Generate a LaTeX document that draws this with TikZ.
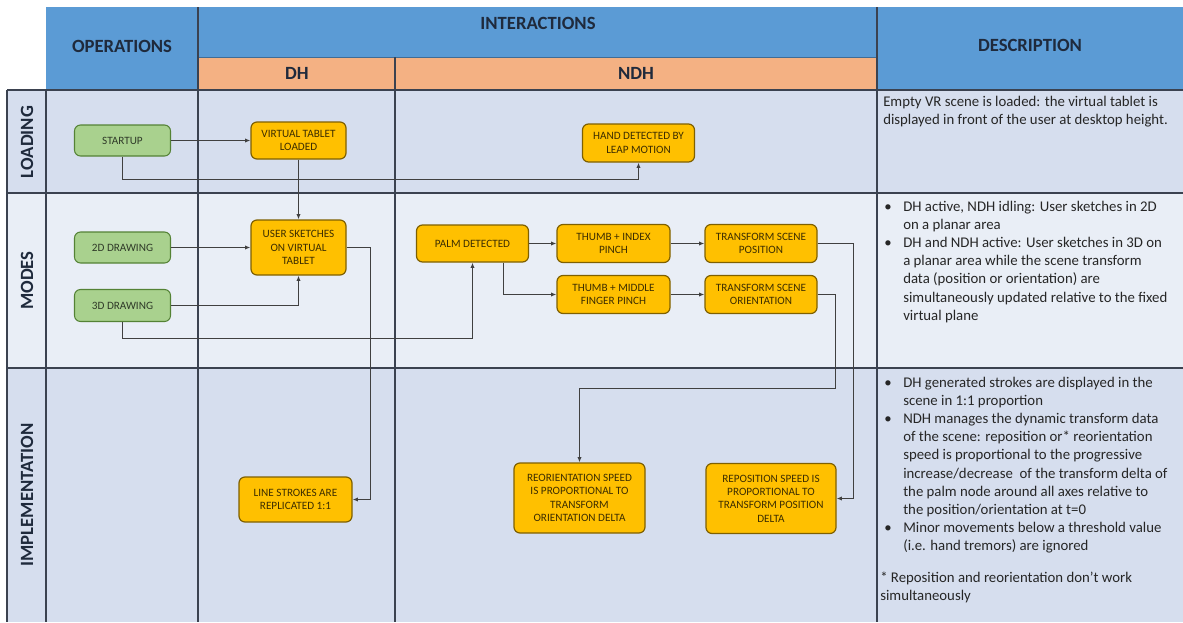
\documentclass[tikz,border=0pt]{standalone}
\usepackage{fontspec}
\setmainfont{Carlito}
\usetikzlibrary{arrows.meta,calc}
\definecolor{hblue}{HTML}{5B9BD5}
\definecolor{horange}{HTML}{F4B183}
\definecolor{rowA}{HTML}{D6DEEE}
\definecolor{rowB}{HTML}{E9EEF6}
\definecolor{nodeO}{HTML}{FFC000}
\definecolor{nodeOb}{HTML}{7F6000}
\definecolor{nodeG}{HTML}{A9D18E}
\definecolor{nodeGb}{HTML}{548235}
\definecolor{gridc}{HTML}{3B4250}
\definecolor{linec}{HTML}{404040}
\definecolor{txt}{HTML}{262626}
\definecolor{htxt}{HTML}{1F2A3C}
\definecolor{otxt}{HTML}{3D2E00}
\definecolor{gtxt}{HTML}{2F3A28}
\newcommand{\mybul}{\makebox[14.25pt][l]{•}}
\newcommand{\myind}{\makebox[14.25pt]{}}
\begin{document}
\begin{tikzpicture}[x=0.75pt,y=-0.75pt,
  sz/.style 2 args={minimum width={#1*0.75pt}, minimum height={#2*0.75pt}},
  onode/.style={draw=nodeOb, fill=nodeO, rounded corners=4.5pt, line width=0.9pt, text=otxt, align=center, inner sep=1pt, font=\fontsize{8.4}{10}\selectfont},
  gnode/.style={draw=nodeGb, fill=nodeG, rounded corners=4.5pt, line width=0.8pt, text=gtxt, align=center, inner sep=1pt, font=\fontsize{8.4}{10}\selectfont},
  conn/.style={draw=linec, line width=0.8pt, -{Latex[length=4pt,width=3.2pt]}},
  gridline/.style={draw=gridc, line width=1pt},
  hdr/.style={font=\fontsize{14}{16}\selectfont\bfseries, text=htxt, inner sep=0pt},
  rowlbl/.style={hdr, rotate=90},
  desc/.style={font=\fontsize{11.1}{13.65}\selectfont, text=txt, align=left, inner sep=0pt, anchor=north west}
]
\useasboundingbox (0,0) rectangle (1183,622);
% fills
\fill[hblue] (46,7) rectangle (198,90);
\fill[hblue] (198,7) rectangle (877,57);
\fill[horange] (198,57) rectangle (877,90);
\fill[hblue] (877,7) rectangle (1183,90);
\fill[rowA] (7,90) rectangle (1183,193);
\fill[rowB] (7,193) rectangle (1183,368);
\fill[rowA] (7,368) rectangle (1183,622);
% grid
\draw[draw=hblue!70!black, line width=0.6pt] (198,57) -- (877,57);
\draw[gridline] (198,7) -- (198,622);
\draw[gridline] (877,7) -- (877,622);
\draw[gridline] (395,57) -- (395,622);
\draw[gridline] (46,90) -- (46,622);
\draw[gridline] (7,90) -- (7,622);
\draw[gridline] (7,90) -- (1183,90);
\draw[gridline, line width=1.2pt] (7,193) -- (1183,193);
\draw[gridline, line width=1.2pt] (7,368) -- (1183,368);
% headers
\node[hdr] (hops) at (122,46) {OPERATIONS};
\node[hdr] (hint) at (538,23.5) {INTERACTIONS};
\node[hdr] (hdh) at (297,73) {DH};
\node[hdr] (hndh) at (636,73) {NDH};
\node[hdr] (hdesc) at (1030,45) {DESCRIPTION};
\node[rowlbl] (lload) at (27,142) {LOADING};
\node[rowlbl] (lmodes) at (27,280.5) {MODES};
\node[rowlbl] (limpl) at (27,495) {IMPLEMENTATION};
% nodes
\node[gnode, sz={96}{31}] (startup) at (122.5,140.5) {STARTUP};
\node[onode, sz={95}{37}] (vt) at (298.5,140.5) {VIRTUAL TABLET\\LOADED};
\node[onode, sz={112}{38}] (hand) at (638.5,143) {HAND DETECTED BY\\LEAP MOTION};
\node[gnode, sz={96}{31}] (d2) at (122.5,247.5) {2D DRAWING};
\node[gnode, sz={96}{32}] (d3) at (122.5,305.5) {3D DRAWING};
\node[onode, sz={95}{55}] (user) at (298.5,247.5) {USER SKETCHES\\ON VIRTUAL\\TABLET};
\node[onode, sz={112}{37}] (palm) at (472.5,243.5) {PALM DETECTED};
\node[onode, sz={113}{38}] (ti) at (613.5,243.5) {THUMB + INDEX\\PINCH};
\node[onode, sz={112}{38}] (tp) at (761,243.5) {TRANSFORM SCENE\\POSITION};
\node[onode, sz={113}{38}] (tm) at (613.5,294.5) {THUMB + MIDDLE\\FINGER PINCH};
\node[onode, sz={112}{38}] (to) at (761,294.5) {TRANSFORM SCENE\\ORIENTATION};
\node[onode, sz={113}{45}] (ls) at (295.5,499.5) {LINE STROKES ARE\\REPLICATED 1:1};
\node[onode, sz={131}{70}] (ro) at (579.5,498) {REORIENTATION SPEED\\IS PROPORTIONAL TO\\TRANSFORM\\ORIENTATION DELTA};
\node[onode, sz={130}{70}] (rp) at (771,498.5) {REPOSITION SPEED IS\\PROPORTIONAL TO\\TRANSFORM POSITION\\DELTA};
% connectors
\draw[conn] (startup.east) -- (vt.west);
\draw[conn] (startup.south) |- ($(hand.south)+(0,16.5)$) -- (hand.south);
\draw[conn] (vt.south) -- (user.north);
\draw[conn] (d2.east) -- (d2.east -| user.west);
\draw[conn] (d3.east) -| (user.south);
\draw[conn] (d3.south) -- ++(0,16) -| (palm.south);
\draw[conn] (palm.east) -- (ti.west);
\draw[conn] ($(palm.south)+(31,0)$) |- (tm.west);
\draw[conn] (ti.east) -- (tp.west);
\draw[conn] (tm.east) -- (to.west);
\draw[conn] (tp.east) -- ++(35.5,0) |- (rp.east);
\draw[conn] (to.east) -- ++(17.5,0) -- ++(0,94) -| (ro.north);
\draw[conn] (user.east) -- ++(23.5,0) |- (ls.east);
% descriptions
\node[desc] (dload) at (883,96) {Empty VR scene is loaded: the virtual tablet is\\displayed in front of the user at desktop height.};
\node[desc] (dmodes) at (884,200.5) {\mybul DH active, NDH idling: User sketches in 2D\\
\myind on a planar area\\
\mybul DH and NDH active: User sketches in 3D on\\
\myind a planar area while the scene transform\\
\myind data (position or orientation) are\\
\myind simultaneously updated relative to the fixed\\
\myind virtual plane};
\node[desc] (dimpl) at (884,376.5) {\mybul DH generated strokes are displayed in the\\
\myind scene in 1:1 proportion\\
\mybul NDH manages the dynamic transform data\\
\myind of the scene: reposition or* reorientation\\
\myind speed is proportional to the progressive\\
\myind increase/decrease \ of the transform delta of\\
\myind the palm node around all axes relative to\\
\myind the position/orientation at t=0\\
\mybul Minor movements below a threshold value\\
\myind (i.e. hand tremors) are ignored\\[9.75pt]
\hspace*{-3pt}* Reposition and reorientation don't work\\
\hspace*{-3pt}simultaneously};
\end{tikzpicture}
\end{document}
